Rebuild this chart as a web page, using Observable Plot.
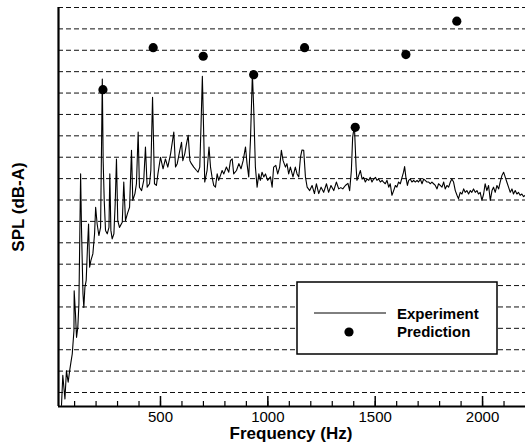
<!DOCTYPE html>
<html>
<head>
<meta charset="utf-8">
<script src="https://cdn.jsdelivr.net/npm/d3@7"></script>
<script src="https://cdn.jsdelivr.net/npm/@observablehq/plot@0.6"></script>
<style>
  html, body { margin: 0; padding: 0; background: #fff; }
  #chart { width: 525px; height: 442px; }
</style>
</head>
<body>
<div id="chart"></div>
<script>
// Experiment spectrum (frequency in Hz, SPL in dB-A)
const expFreq = [39,45,55,62,70,77,83,89,97,98,104,109,115,120,128,132,139,143,148,154,160,165,170,176,185,193,198,205,213,221,229,233,238,244,252,260,264,269,275,283,289,295,301,309,322,329,337,346,356,365,371,381,388,396,402,412,422,430,438,449,455,463,
472,481,488,500,512,523,534,547,562,570,578,590,598,604,613,621,629,637,644,655,668,675,683,689,695,702,706,717,726,733,740,748,756,764,771,779,787,795,807,818,826,834,841,854,865,875,885,896,903,911,919,928,934,942,950,958,965,973,981,989,999,1012,1020,1027,1037,1046,1055,1063,1071,1082,1089,1097,1105,1117,1128,1136,1144,1152,1159,1167,1175,1183,1195,1206,1217,1226,1237,1248,1260,1273,1283,1294,1307,1319,1330,1340,
1349,1361,1373,1381,1389,1395,1403,1411,1415,1423,1431,1439,1446,1454,1462,1470,1477,1485,1493,1501,1508,1516,1524,1532,1539,1547,1555,1563,1570,1578,1586,1594,1601,1609,1617,1625,1632,1637,1643,1650,1656,1663,1671,1679,1687,1695,1702,1710,1718,1726,1733,1741,1749,1757,1764,1772,1780,1788,1795,1803,1811,1819,1826,1834,1842,1850,1857,1865,1873,1881,1888,1896,1904,1912,1919,1927,1935,1943,1950,1958,1966,1974,1981,1989,1997,2005,2012,2020,2028,2036,2044,2051,2059,2067,2075,2082,2090,2098,2106,2113,2121,2129,2137,2144,2152,2160,2167,2175,2183,2191,2199];
const expSPL = [27.0,34.0,28.5,35.1,32.4,35.1,37.1,39.0,44.5,53.8,48.4,42.9,45.3,50.7,81.1,68.6,53.1,49.9,54.6,56.2,64.0,69.4,59.3,60.9,62.4,67.1,73.3,69.4,66.7,68.6,103.3,84.2,74.9,67.9,67.1,68.6,81.1,67.9,65.9,67.1,74.1,84.6,70.2,68.6,69.8,79.2,70.2,71.8,73.3,86.6,74.9,76.5,78.8,90.9,78.0,77.2,79.6,87.4,78.0,78.8,81.9,99.0,
78.8,78.4,81.1,85.0,82.3,84.6,82.7,85.8,90.9,82.7,83.5,86.6,88.5,84.2,85.8,88.1,90.1,84.2,83.5,82.7,81.9,81.5,82.7,92.8,103.9,88.9,79.2,81.9,87.4,82.7,80.4,78.4,78.0,81.1,79.6,80.7,81.9,81.1,82.7,81.5,84.2,84.6,81.1,81.9,83.5,82.3,84.2,87.4,83.5,80.4,88.9,104.5,96.7,82.7,78.0,81.1,79.6,81.5,80.4,81.1,79.6,80.4,78.0,82.7,83.1,81.1,82.7,86.6,84.2,82.7,83.5,81.1,82.7,80.4,82.7,81.1,80.4,85.0,86.7,86.6,80.4,78.0,77.2,78.4,76.5,78.8,76.5,78.0,76.8,78.8,76.8,78.4,77.2,79.2,77.6,77.9,
77.6,78.4,78.9,77.2,81.9,89.7,92.4,82.7,79.6,80.7,81.9,79.9,80.3,79.2,79.9,79.6,80.3,79.2,79.9,80.3,79.6,79.9,79.2,79.6,79.2,78.8,79.6,78.0,78.8,76.1,77.2,78.4,78.0,79.2,78.8,80.3,81.5,82.8,80.3,78.4,79.6,79.9,79.2,79.6,79.2,79.6,79.2,79.9,78.8,79.9,79.6,79.2,79.2,78.8,79.2,78.8,78.4,77.6,78.8,78.4,78.0,79.2,77.6,78.4,78.0,79.2,79.9,79.2,77.2,76.1,75.3,76.8,76.4,77.6,76.8,77.2,76.4,77.2,76.8,77.6,76.8,77.2,76.4,76.8,74.9,76.4,78.8,77.2,78.4,74.9,77.2,78.0,76.8,78.4,77.6,79.2,80.7,81.5,80.3,79.2,78.0,76.8,77.6,76.4,77.2,76.4,76.8,76.1,76.4,75.8,76.1];

// Prediction (harmonics)
const predFreq = [232, 466, 699, 934, 1171, 1407, 1643, 1880];
const predSPL = [100.8, 110.6, 108.6, 104.3, 110.6, 92.0, 109.0, 116.8];

// Axis ticks
const majorTicks = [500, 1000, 1500, 2000];
const minorTicks = [100,200,300,400,500,600,700,800,900,1000,1100,1200,1300,1400,1500,1600,1700,1800,1900,2000,2100];
const gridLevels = [30,35,40,45,50,55,60,65,70,75,80,85,90,95,100,105,110,115,120];

const xDomain = [25, 2200];
const yDomain = [26.73, 120];

const expData = expFreq.map((f, i) => ({f, s: expSPL[i]}));
const predData = predFreq.map((f, i) => ({f, s: predSPL[i]}));

const font = "'Liberation Sans', Arial, Helvetica, sans-serif";

const svg = Plot.plot({
  width: 525,
  height: 442,
  marginLeft: 58,
  marginRight: 0,
  marginTop: 7,
  marginBottom: 36,
  style: {fontFamily: font, fontSize: "15px", color: "#000", background: "#fff"},
  x: {domain: xDomain, label: null},
  y: {domain: yDomain, label: null},
  marks: [
    Plot.ruleY(gridLevels, {stroke: "#111", strokeWidth: 1, strokeDasharray: "5,3"}),
    Plot.line(expData, {x: "f", y: "s", stroke: "#000", strokeWidth: 1.1}),
    Plot.dot(predData, {x: "f", y: "s", r: 4.6, fill: "#000", stroke: "none"}),
    Plot.tickX(minorTicks, {x: d => d, stroke: "#000", strokeWidth: 1.2, insetTop: 394}),
    Plot.tickX(majorTicks, {x: d => d, stroke: "#000", strokeWidth: 1.5, insetTop: 389}),
    Plot.axisX(majorTicks, {tickSize: 0, tickPadding: 5, fontSize: 15, label: null, tickFormat: d => String(d)}),
    Plot.axisY([], {label: null, tickSize: 0}),
    Plot.ruleX([xDomain[0]], {stroke: "#000", strokeWidth: 2.2}),
    Plot.ruleY([yDomain[0]], {stroke: "#000", strokeWidth: 2.2})
  ]
});

const s = d3.select(svg);
// axis titles
s.append("text")
  .attr("x", 291).attr("y", 439)
  .attr("text-anchor", "middle")
  .style("font-family", font).style("font-weight", "bold").style("font-size", "17px")
  .attr("fill", "#000")
  .text("Frequency (Hz)");
s.append("text")
  .attr("transform", "translate(24,207) rotate(-90)")
  .attr("text-anchor", "middle")
  .style("font-family", font).style("font-weight", "bold").style("font-size", "17px")
  .attr("fill", "#000")
  .text("SPL (dB-A)");

// legend
const lg = s.append("g");
lg.append("rect").attr("x", 297).attr("y", 282).attr("width", 200).attr("height", 72)
  .attr("fill", "#fff").attr("stroke", "#000").attr("stroke-width", 1.5);
lg.append("line").attr("x1", 314).attr("x2", 386).attr("y1", 313).attr("y2", 313)
  .attr("stroke", "#000").attr("stroke-width", 1);
lg.append("circle").attr("cx", 349).attr("cy", 332).attr("r", 4.6).attr("fill", "#000");
lg.append("text").attr("x", 397).attr("y", 318.5).attr("text-anchor", "start")
  .style("font-family", font).style("font-weight", "bold").style("font-size", "15px")
  .attr("fill", "#000").text("Experiment");
lg.append("text").attr("x", 397).attr("y", 337).attr("text-anchor", "start")
  .style("font-family", font).style("font-weight", "bold").style("font-size", "15px")
  .attr("fill", "#000").text("Prediction");

document.getElementById("chart").appendChild(svg);
</script>
</body>
</html>
